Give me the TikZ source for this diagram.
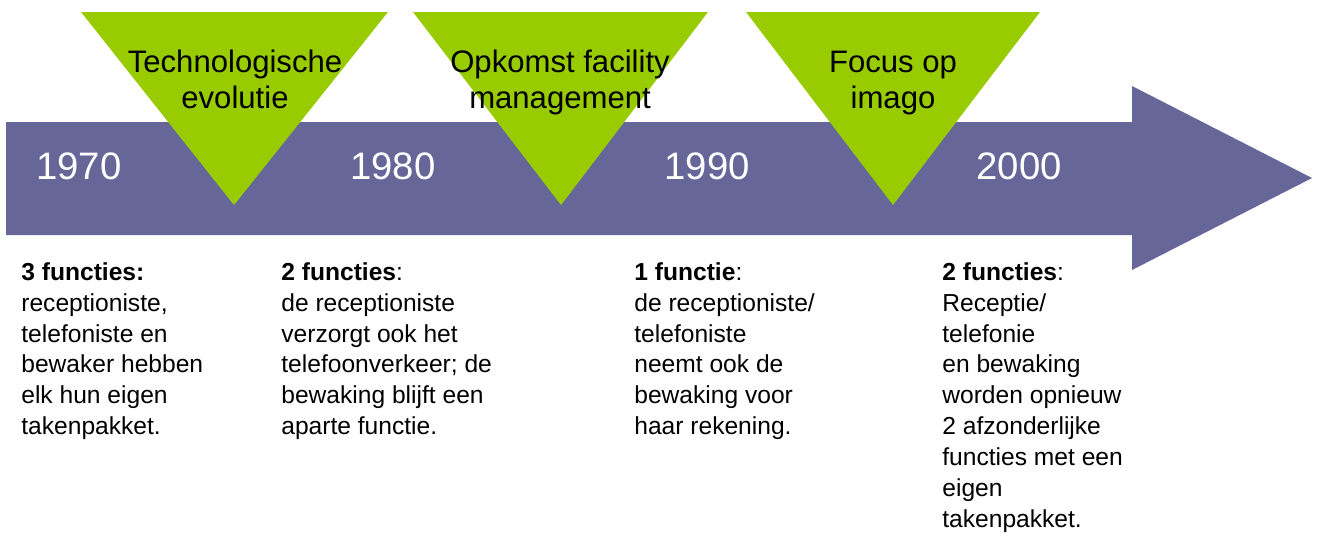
\documentclass[tikz,border=0pt]{standalone}
\usepackage{fontspec}
\setmainfont{Liberation Sans}
\usetikzlibrary{positioning}
\definecolor{tlpurple}{HTML}{666699}
\definecolor{tlgreen}{HTML}{99CC00}

\begin{document}
\begin{tikzpicture}[x=0.02cm, y=-0.02cm,
  topic/.style={anchor=north, align=center, inner sep=0pt, font=\fontsize{17.7}{20.5}\selectfont},
  year/.style={anchor=base, text=white, font=\fontsize{21.8}{25}\selectfont},
  info/.style={anchor=north west, align=left, inner sep=0pt, font=\fontsize{14}{17.6}\selectfont}]
  % Fix the page size
  \useasboundingbox (0,0) rectangle (1317,535);

  % Draw the time arrow
  \fill [tlpurple] (6,122) -- (1132,122) -- (1132,86) -- (1312,178) -- (1132,270) -- (1132,235) -- (6,235) -- cycle;

  % Draw the triangles
  \fill [tlgreen] (81,12) -- (388,12) -- (234,205) -- cycle;
  \fill [tlgreen] (413,12) -- (708,12) -- (561,205) -- cycle;
  \fill [tlgreen] (746,12) -- (1040,12) -- (893,205) -- cycle;

  % Create the nodes
  \node (technologie) [topic] at (235,50) {Technologische\\evolutie};
  \node (facility) [topic] at (560,50) {Opkomst facility\\management};
  \node (imago) [topic] at (893,51) {Focus op\\imago};

  \node (y1970) [year] at (79,179) {1970};
  \node (y1980) [year] at (393,179) {1980};
  \node (y1990) [year] at (707,179) {1990};
  \node (y2000) [year] at (1019,179) {2000};

  \node (functies1970) [info] at (21,262) {\textbf{3 functies:}\\receptioniste,\\telefoniste en\\bewaker hebben\\elk hun eigen\\takenpakket.};
  \node (functies1980) [info] at (281,262) {\textbf{2 functies}:\\de receptioniste\\verzorgt ook het\\telefoonverkeer; de\\bewaking blijft een\\aparte functie.};
  \node (functies1990) [info] at (634,262) {\textbf{1 functie}:\\de receptioniste/\\telefoniste\\neemt ook de\\bewaking voor\\haar rekening.};
  \node (functies2000) [info] at (942,262) {\textbf{2 functies}:\\Receptie/\\telefonie\\en bewaking\\worden opnieuw\\2 afzonderlijke\\functies met een\\eigen\\takenpakket.};
\end{tikzpicture}
\end{document}
